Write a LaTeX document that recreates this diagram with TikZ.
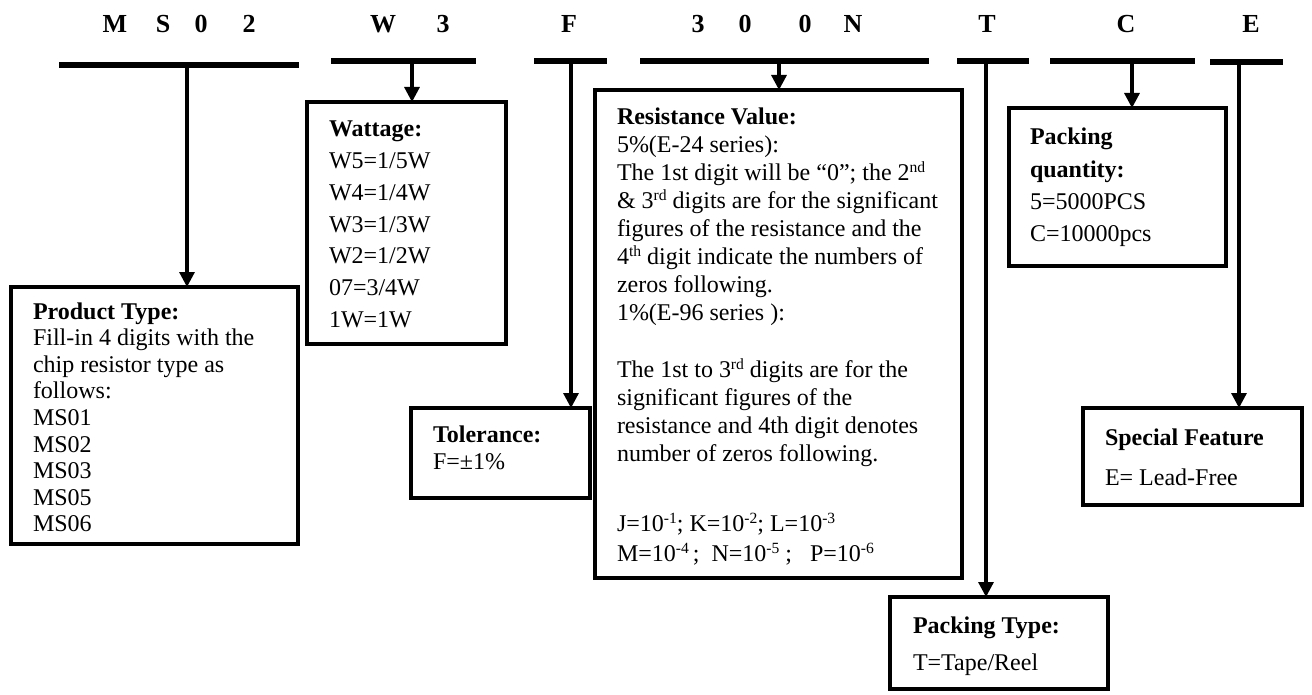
\documentclass[tikz,border=0pt]{standalone}
\usepackage{fontspec}
\setmainfont{Liberation Serif}
\usetikzlibrary{arrows.meta}
\newcommand\sups[1]{\raisebox{8pt}{\fontsize{15.6}{15.6}\selectfont #1}}
\begin{document}
\begin{tikzpicture}[x=1pt,y=-1pt,
  box/.style={draw, line width=4pt, inner sep=0pt, outer sep=0pt, anchor=north west},
  bar/.style={fill=black, inner sep=0pt, outer sep=0pt, minimum height=6pt},
  arr/.style={line width=3.2pt, -{Triangle[length=15pt,width=15pt]}},
  txt/.style={anchor=base west, inner sep=0pt, outer sep=0pt},
  hdr/.style={anchor=base, inner sep=0pt, font=\fontsize{26}{30}\selectfont\bfseries}]
\useasboundingbox (0,0) rectangle (1312,695);
% header letters
\foreach \ch/\xx/\nm in {M/115/h1,S/163/h2,0/201/h3,2/249/h4,W/383/h5,3/443/h6,F/569/h7,3/698/h8,0/745/h9,0/805/h10,N/853/h11,T/987/h12,C/1126/h13,E/1251/h14}
  \node[hdr] (\nm) at (\xx,33) {\ch};
% bars
\node[bar, minimum width=240pt] (bar1) at (179,65) {};
\node[bar, minimum width=145pt] (bar2) at (403.5,61) {};
\node[bar, minimum width=73pt] (bar3) at (570.5,61) {};
\node[bar, minimum width=289pt] (bar4) at (784.5,61) {};
\node[bar, minimum width=72pt] (bar5) at (993,61) {};
\node[bar, minimum width=145pt] (bar6) at (1122.5,61) {};
\node[bar, minimum width=73pt] (bar7) at (1246.5,62) {};
% boxes
\node[box, minimum width=287pt, minimum height=257pt] (prod) at (11,287) {};
\node[box, minimum width=199pt, minimum height=242pt] (watt) at (307,102) {};
\node[box, minimum width=179pt, minimum height=90pt] (tol) at (411,408) {};
\node[box, minimum width=367pt, minimum height=488pt] (res) at (595,90) {};
\node[box, minimum width=217pt, minimum height=158pt] (pq) at (1009,108) {};
\node[box, minimum width=219pt, minimum height=97pt] (spec) at (1083,408) {};
\node[box, minimum width=218pt, minimum height=92pt] (pt) at (890,597) {};
% connector start points on the bars
\coordinate (c1) at (187,65);
\coordinate (c2) at (412,61);
\coordinate (c3) at (571,61);
\coordinate (c4) at (779,61);
\coordinate (c5) at (986,61);
\coordinate (c6) at (1132,61);
\coordinate (c7) at (1239,62);
\draw[arr] (c1) -- (c1 |- prod.north);
\draw[arr] (c2) -- (c2 |- watt.north);
\draw[arr] (c3) -- (c3 |- tol.north);
\draw[arr] (c4) -- (c4 |- res.north);
\draw[arr] (c5) -- (c5 |- pt.north);
\draw[arr] (c6) -- (c6 |- pq.north);
\draw[arr] (c7) -- (c7 |- spec.north);
% texts
\node[txt] (prodtxt) at (33,319) {\parbox[t]{270pt}{\raggedright\fontsize{24}{26.6}\selectfont
\textbf{Product Type:}\\
Fill-in 4 digits with the\\
chip resistor type as\\
follows:\\
MS01\\
MS02\\
MS03\\
MS05\\
MS06}};
\node[txt] (watttxt) at (329,137) {\parbox[t]{170pt}{\raggedright\fontsize{24}{31.7}\selectfont
\textbf{Wattage:}\\
W5=1/5W\\
W4=1/4W\\
W3=1/3W\\
W2=1/2W\\
07=3/4W\\
1W=1W}};
\node[txt] (toltxt) at (433,442) {\parbox[t]{150pt}{\raggedright\fontsize{24}{27}\selectfont
\textbf{Tolerance:}\\
F=±1\%}};
\node[txt] (restxt) at (617,125) {\parbox[t]{340pt}{\raggedright\fontsize{24}{28}\selectfont
\textbf{Resistance Value:}\\
5\%(E-24 series):\\
The 1st digit will be “0”; the 2\sups{nd}\\
\& 3\sups{rd} digits are for the significant\\
figures of the resistance and the\\
4\sups{th} digit indicate the numbers of\\
zeros following.\\
1\%(E-96 series ):\\[29pt]
The 1st to 3\sups{rd} digits are for the\\
significant figures of the\\
resistance and 4th digit denotes\\
number of zeros following.\\[42pt]
J=10\sups{-1}; K=10\sups{-2}; L=10\sups{-3}\\[2pt]
M=10\sups{-4}\,;\ \ N=10\sups{-5}\ ;\ \ \ P=10\sups{-6}}};
\node[txt] (pqtxt) at (1030,145) {\parbox[t]{190pt}{\raggedright\fontsize{24}{32.3}\selectfont
\textbf{Packing}\\
\textbf{quantity:}\\
5=5000PCS\\
C=10000pcs}};
\node[txt] (spectxt) at (1105,445) {\parbox[t]{190pt}{\raggedright\fontsize{24}{40}\selectfont
\textbf{Special Feature}\\
E= Lead-Free}};
\node[txt] (pttxt) at (913,633) {\parbox[t]{190pt}{\raggedright\fontsize{24}{37}\selectfont
\textbf{Packing Type:}\\
T=Tape/Reel}};
\end{tikzpicture}
\end{document}
